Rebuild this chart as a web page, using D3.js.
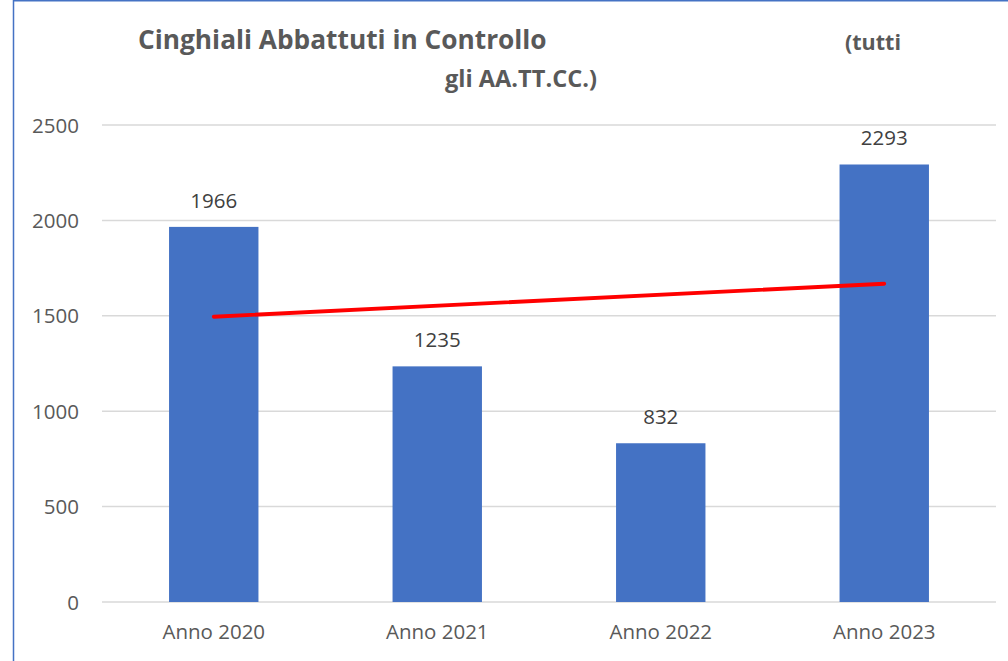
<!DOCTYPE html>
<html><head><meta charset="utf-8">
<script src="https://cdn.jsdelivr.net/npm/d3@7"></script>
<style>html,body{margin:0;padding:0;background:#fff}svg{display:block}</style>
</head><body>
<svg id="c" width="1008" height="661"></svg>
<script>
const categories = ["Anno 2020", "Anno 2021", "Anno 2022", "Anno 2023"];
const values = [1966, 1235, 832, 2293];
const trendValues = [1495, 1668]; // linear trend line at first and last category
const yTicks = [0, 500, 1000, 1500, 2000, 2500];
const titleMain = "Cinghiali Abbattuti in Controllo";
const titleRight = "(tutti";
const titleSub = "gli AA.TT.CC.)";

const svg = d3.select("#c");
const W = 1008, H = 661;
const m = {left: 102, right: 12, top: 125, bottom: 59};
const x = d3.scaleBand().domain(categories).range([m.left, W - m.right]).paddingInner(0.6).paddingOuter(0.3);
const y = d3.scaleLinear().domain([0, 2500]).range([H - m.bottom, m.top]);
const font = "'Open Sans', 'Noto Sans', sans-serif";

// frame
svg.append("line").attr("x1", 13.5).attr("x2", 13.5).attr("y1", 0).attr("y2", H).attr("stroke", "#4472C4").attr("stroke-width", 1.5);
svg.append("line").attr("x1", 13).attr("x2", W).attr("y1", 0.75).attr("y2", 0.75).attr("stroke", "#4472C4").attr("stroke-width", 1.5);

// grid
svg.append("g").selectAll("line").data(yTicks).join("line")
  .attr("x1", m.left).attr("x2", W - m.right)
  .attr("y1", d => y(d)).attr("y2", d => y(d))
  .attr("stroke", "#d9d9d9").attr("stroke-width", 1.5);

// y axis labels
const yAxis = d3.axisLeft(y).tickValues(yTicks).tickFormat(d3.format("d")).tickSize(0).tickPadding(0);
const gy = svg.append("g").attr("transform", `translate(79,0)`).call(yAxis);
gy.select(".domain").remove();
gy.selectAll("text").attr("font-family", font).attr("font-size", 20.5).attr("fill", "#595959").attr("dy", "0.35em");

// x axis labels
const xAxis = d3.axisBottom(x).tickSize(0).tickPadding(0);
const gx = svg.append("g").attr("transform", `translate(0,${H - m.bottom + 22})`).call(xAxis);
gx.select(".domain").remove();
gx.selectAll("text").attr("font-family", font).attr("font-size", 20.5).attr("fill", "#595959").attr("dy", "0.71em");

// bars
svg.append("g").selectAll("rect").data(values).join("rect")
  .attr("x", (d, i) => x(categories[i]))
  .attr("width", x.bandwidth())
  .attr("y", d => y(d))
  .attr("height", d => y(0) - y(d))
  .attr("fill", "#4472C4");

// data labels
svg.append("g").selectAll("text").data(values).join("text")
  .attr("x", (d, i) => x(categories[i]) + x.bandwidth() / 2)
  .attr("y", d => y(d) - 19)
  .attr("text-anchor", "middle")
  .attr("font-family", font).attr("font-size", 20.5).attr("fill", "#404040")
  .text(d => d);

// trend line
const cx = c => x(c) + x.bandwidth() / 2;
svg.append("path")
  .datum([[categories[0], trendValues[0]], [categories[categories.length - 1], trendValues[1]]])
  .attr("d", d3.line().x(d => cx(d[0])).y(d => y(d[1])))
  .attr("stroke", "#FF0000").attr("stroke-width", 3.8).attr("stroke-linecap", "round").attr("fill", "none");

// titles
function fit(sel, w) {
  const l = sel.node().getComputedTextLength();
  const fs = parseFloat(sel.attr("font-size"));
  sel.attr("font-size", fs * w / l);
}
const t1 = svg.append("text").attr("x", 138).attr("y", 49).attr("font-family", font).attr("font-weight", "bold")
  .attr("font-size", 26).attr("fill", "#595959").text(titleMain);
fit(t1, 409);
const t2 = svg.append("text").attr("x", 845).attr("y", 50).attr("font-family", font).attr("font-weight", "bold")
  .attr("font-size", 20).attr("fill", "#595959").text(titleRight);
fit(t2, 56);
const t3 = svg.append("text").attr("x", 445).attr("y", 87).attr("font-family", font).attr("font-weight", "bold")
  .attr("font-size", 20).attr("fill", "#595959").text(titleSub);
fit(t3, 152);
</script>
</body></html>
